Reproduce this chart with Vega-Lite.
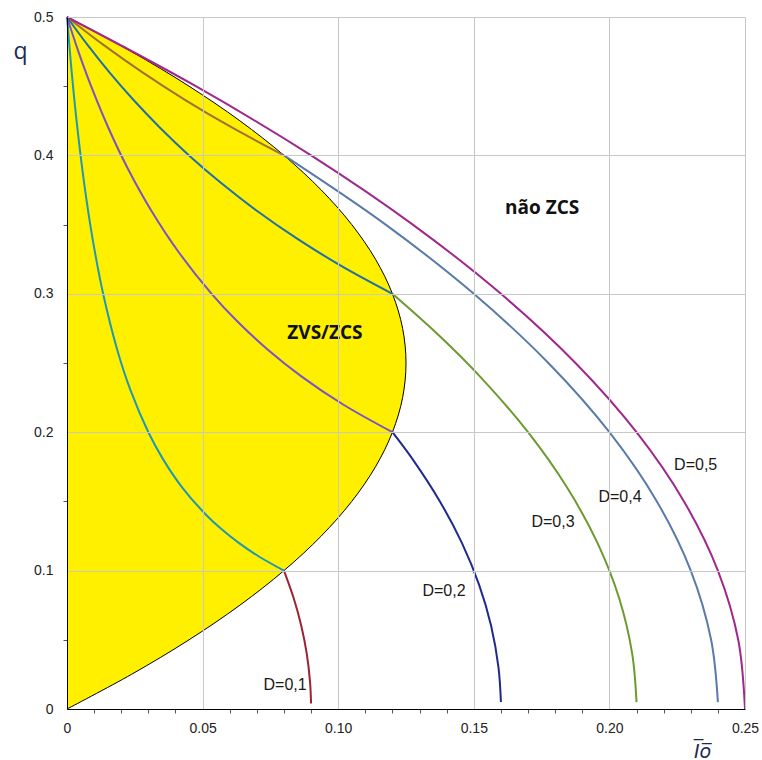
{
  "$schema": "https://vega.github.io/schema/vega-lite/v6.json",
  "width": 678,
  "height": 692,
  "autosize": {"type": "none"},
  "padding": {"left": 67, "top": 17, "right": 17, "bottom": 51},
  "background": "white",
  "config": {"view": {"stroke": null}},
  "datasets": {
    "boundary": [
      {"Io": 0, "q": 0}, {"Io": 0.02375, "q": 0.025}, {"Io": 0.045, "q": 0.05}, {"Io": 0.06375, "q": 0.075},
      {"Io": 0.08, "q": 0.1}, {"Io": 0.09375, "q": 0.125}, {"Io": 0.105, "q": 0.15}, {"Io": 0.11375, "q": 0.175},
      {"Io": 0.12, "q": 0.2}, {"Io": 0.12375, "q": 0.225}, {"Io": 0.125, "q": 0.25}, {"Io": 0.12375, "q": 0.275},
      {"Io": 0.12, "q": 0.3}, {"Io": 0.11375, "q": 0.325}, {"Io": 0.105, "q": 0.35}, {"Io": 0.09375, "q": 0.375},
      {"Io": 0.08, "q": 0.4}, {"Io": 0.06375, "q": 0.425}, {"Io": 0.045, "q": 0.45}, {"Io": 0.02375, "q": 0.475},
      {"Io": 0, "q": 0.5}
    ],
    "curves": [
      {"s": "D1o", "Io": 0.09, "q": 0.004}, {"s": "D1o", "Io": 0.0896, "q": 0.02}, {"s": "D1o", "Io": 0.0884, "q": 0.04},
      {"s": "D1o", "Io": 0.0864, "q": 0.06}, {"s": "D1o", "Io": 0.0836, "q": 0.08}, {"s": "D1o", "Io": 0.08, "q": 0.1},
      {"s": "D1i", "Io": 0.08, "q": 0.1}, {"s": "D1i", "Io": 0.07091, "q": 0.11}, {"s": "D1i", "Io": 0.06333, "q": 0.12},
      {"s": "D1i", "Io": 0.05692, "q": 0.13}, {"s": "D1i", "Io": 0.05143, "q": 0.14}, {"s": "D1i", "Io": 0.0425, "q": 0.16},
      {"s": "D1i", "Io": 0.03556, "q": 0.18}, {"s": "D1i", "Io": 0.03, "q": 0.2}, {"s": "D1i", "Io": 0.02348, "q": 0.23},
      {"s": "D1i", "Io": 0.01846, "q": 0.26}, {"s": "D1i", "Io": 0.01333, "q": 0.3}, {"s": "D1i", "Io": 0.00941, "q": 0.34},
      {"s": "D1i", "Io": 0.00632, "q": 0.38}, {"s": "D1i", "Io": 0.00381, "q": 0.42}, {"s": "D1i", "Io": 0.00174, "q": 0.46},
      {"s": "D1i", "Io": 0, "q": 0.5},

      {"s": "D2o", "Io": 0.16, "q": 0.005}, {"s": "D2o", "Io": 0.1591, "q": 0.03}, {"s": "D2o", "Io": 0.1564, "q": 0.06},
      {"s": "D2o", "Io": 0.1519, "q": 0.09}, {"s": "D2o", "Io": 0.1456, "q": 0.12}, {"s": "D2o", "Io": 0.1375, "q": 0.15},
      {"s": "D2o", "Io": 0.1276, "q": 0.18}, {"s": "D2o", "Io": 0.12, "q": 0.2},
      {"s": "D2i", "Io": 0.12, "q": 0.2}, {"s": "D2i", "Io": 0.10182, "q": 0.22}, {"s": "D2i", "Io": 0.08667, "q": 0.24},
      {"s": "D2i", "Io": 0.07385, "q": 0.26}, {"s": "D2i", "Io": 0.06286, "q": 0.28}, {"s": "D2i", "Io": 0.05333, "q": 0.3},
      {"s": "D2i", "Io": 0.04121, "q": 0.33}, {"s": "D2i", "Io": 0.03111, "q": 0.36}, {"s": "D2i", "Io": 0.02256, "q": 0.39},
      {"s": "D2i", "Io": 0.01524, "q": 0.42}, {"s": "D2i", "Io": 0.00889, "q": 0.45}, {"s": "D2i", "Io": 0.00421, "q": 0.475},
      {"s": "D2i", "Io": 0, "q": 0.5},

      {"s": "D3o", "Io": 0.21, "q": 0.005}, {"s": "D3o", "Io": 0.2084, "q": 0.04}, {"s": "D3o", "Io": 0.2036, "q": 0.08},
      {"s": "D3o", "Io": 0.1956, "q": 0.12}, {"s": "D3o", "Io": 0.1844, "q": 0.16}, {"s": "D3o", "Io": 0.17, "q": 0.2},
      {"s": "D3o", "Io": 0.1524, "q": 0.24}, {"s": "D3o", "Io": 0.1371, "q": 0.27}, {"s": "D3o", "Io": 0.12, "q": 0.3},
      {"s": "D3i", "Io": 0.12, "q": 0.3}, {"s": "D3i", "Io": 0.10125, "q": 0.32}, {"s": "D3i", "Io": 0.08471, "q": 0.34},
      {"s": "D3i", "Io": 0.07, "q": 0.36}, {"s": "D3i", "Io": 0.05684, "q": 0.38}, {"s": "D3i", "Io": 0.045, "q": 0.4},
      {"s": "D3i", "Io": 0.03429, "q": 0.42}, {"s": "D3i", "Io": 0.02455, "q": 0.44}, {"s": "D3i", "Io": 0.01565, "q": 0.46},
      {"s": "D3i", "Io": 0.0075, "q": 0.48}, {"s": "D3i", "Io": 0, "q": 0.5},

      {"s": "D4o", "Io": 0.24, "q": 0.005}, {"s": "D4o", "Io": 0.2375, "q": 0.05}, {"s": "D4o", "Io": 0.23, "q": 0.1},
      {"s": "D4o", "Io": 0.2175, "q": 0.15}, {"s": "D4o", "Io": 0.2, "q": 0.2}, {"s": "D4o", "Io": 0.1775, "q": 0.25},
      {"s": "D4o", "Io": 0.15, "q": 0.3}, {"s": "D4o", "Io": 0.1175, "q": 0.35}, {"s": "D4o", "Io": 0.08, "q": 0.4},
      {"s": "D4i", "Io": 0.08, "q": 0.4}, {"s": "D4i", "Io": 0.06095, "q": 0.42}, {"s": "D4i", "Io": 0.04364, "q": 0.44},
      {"s": "D4i", "Io": 0.02783, "q": 0.46}, {"s": "D4i", "Io": 0.01333, "q": 0.48}, {"s": "D4i", "Io": 0, "q": 0.5},

      {"s": "D5o", "Io": 0.25, "q": 0.0}, {"s": "D5o", "Io": 0.2475, "q": 0.05}, {"s": "D5o", "Io": 0.24, "q": 0.1},
      {"s": "D5o", "Io": 0.2275, "q": 0.15}, {"s": "D5o", "Io": 0.21, "q": 0.2}, {"s": "D5o", "Io": 0.1875, "q": 0.25},
      {"s": "D5o", "Io": 0.16, "q": 0.3}, {"s": "D5o", "Io": 0.1275, "q": 0.35}, {"s": "D5o", "Io": 0.09, "q": 0.4},
      {"s": "D5o", "Io": 0.0475, "q": 0.45}, {"s": "D5o", "Io": 0, "q": 0.5}
    ],
    "dlabels": [
      {"t": "D=0,1", "Io": 0.0804, "q": 0.017},
      {"t": "D=0,2", "Io": 0.139, "q": 0.0852},
      {"t": "D=0,3", "Io": 0.1792, "q": 0.1354},
      {"t": "D=0,4", "Io": 0.2039, "q": 0.1534},
      {"t": "D=0,5", "Io": 0.2318, "q": 0.1765}
    ],
    "rlabels": [
      {"t": "não ZCS", "Io": 0.1752, "q": 0.3621},
      {"t": "ZVS/ZCS", "Io": 0.0951, "q": 0.2715}
    ]
  },
  "encoding": {
    "x": {
      "field": "Io", "type": "quantitative",
      "scale": {"domain": [0, 0.25], "nice": false, "zero": false},
      "axis": {
        "values": [0, 0.01, 0.02, 0.03, 0.04, 0.05, 0.06, 0.07, 0.08, 0.09, 0.1, 0.11, 0.12, 0.13, 0.14, 0.15, 0.16, 0.17, 0.18, 0.19, 0.2, 0.21, 0.22, 0.23, 0.24, 0.25],
        "labelExpr": "round(datum.value*100) % 5 == 0 ? (datum.value == 0 ? '0' : format(datum.value, '.2f')) : ''",
        "grid": true,
        "gridColor": "#c8c8c8",
        "gridWidth": 1,
        "gridOpacity": {"condition": {"test": "round(datum.value*100) % 5 == 0", "value": 1}, "value": 0},
        "tickOpacity": {"condition": {"test": "round(datum.value*100) % 5 == 0", "value": 0}, "value": 1},
        "tickColor": "#555555",
        "tickSize": 4,
        "domainColor": "#000000",
        "domainWidth": 1,
        "labelFont": "Liberation Sans",
        "labelFontSize": 14,
        "labelColor": "#222222",
        "labelPadding": 8,
        "labelFlush": false,
        "labelOverlap": false,
        "zindex": 1,
        "title": "I\u0305o\u0305",
        "titleFont": "DejaVu Sans",
        "titleFontStyle": "italic",
        "titleFontWeight": "normal",
        "titleFontSize": 19,
        "titleColor": "#1a2a55",
        "titleX": 635,
        "titleY": 48,
        "titleAlign": "center",
        "titleBaseline": "alphabetic"
      }
    },
    "y": {
      "field": "q", "type": "quantitative",
      "scale": {"domain": [0, 0.5], "nice": false, "zero": false},
      "axis": {
        "values": [0, 0.05, 0.1, 0.15, 0.2, 0.25, 0.3, 0.35, 0.4, 0.45, 0.5],
        "labelExpr": "round(datum.value*100) % 10 == 0 ? (datum.value == 0 ? '0' : format(datum.value, '.1f')) : ''",
        "grid": true,
        "gridColor": "#c8c8c8",
        "gridWidth": 1,
        "gridOpacity": {"condition": {"test": "round(datum.value*100) % 10 == 0", "value": 1}, "value": 0},
        "tickOpacity": {"condition": {"test": "round(datum.value*100) % 10 == 0", "value": 0}, "value": 1},
        "tickColor": "#555555",
        "tickSize": 4,
        "domainColor": "#000000",
        "domainWidth": 1,
        "labelFont": "Liberation Sans",
        "labelFontSize": 14,
        "labelColor": "#222222",
        "labelPadding": 10,
        "labelFlush": false,
        "labelOverlap": false,
        "zindex": 1,
        "title": "q",
        "titleFont": "Open Sans",
        "titleFontWeight": "normal",
        "titleFontSize": 23,
        "titleColor": "#1a2a55",
        "titleAngle": 0,
        "titleX": -47,
        "titleY": 34,
        "titleAlign": "center",
        "titleBaseline": "middle"
      }
    }
  },
  "layer": [
    {
      "data": {"name": "boundary"},
      "mark": {"type": "area", "orient": "horizontal", "color": "#fff000", "opacity": 1, "interpolate": "catmull-rom"},
      "encoding": {
        "x2": {"datum": 0}
      }
    },
    {
      "data": {"name": "boundary"},
      "mark": {"type": "line", "color": "#000000", "strokeWidth": 1, "interpolate": "catmull-rom"},
      "encoding": {
        "order": {"field": "q", "type": "quantitative"}
      }
    },
    {
      "data": {"name": "curves"},
      "mark": {"type": "line", "strokeWidth": 2, "interpolate": "catmull-rom"},
      "encoding": {
        "color": {
          "field": "s", "type": "nominal", "legend": null,
          "scale": {
            "domain": ["D1o", "D1i", "D2o", "D2i", "D3o", "D3i", "D4o", "D4i", "D5o"],
            "range": ["#9b2335", "#1e98b4", "#1f2a8c", "#7b52c8", "#6b9a2e", "#1f6fa8", "#5a7aaa", "#a0703a", "#a0288c"]
          }
        },
        "order": {"field": "q", "type": "quantitative"}
      }
    },
    {
      "data": {"name": "dlabels"},
      "mark": {"type": "text", "font": "Liberation Sans", "fontSize": 16, "color": "#1a1a1a", "align": "center", "baseline": "middle"},
      "encoding": {
        "text": {"field": "t"}
      }
    },
    {
      "data": {"name": "rlabels"},
      "mark": {"type": "text", "font": "Open Sans", "fontSize": 19, "fontWeight": "bold", "color": "#111111", "align": "center", "baseline": "middle"},
      "encoding": {
        "text": {"field": "t"}
      }
    }
  ]
}
